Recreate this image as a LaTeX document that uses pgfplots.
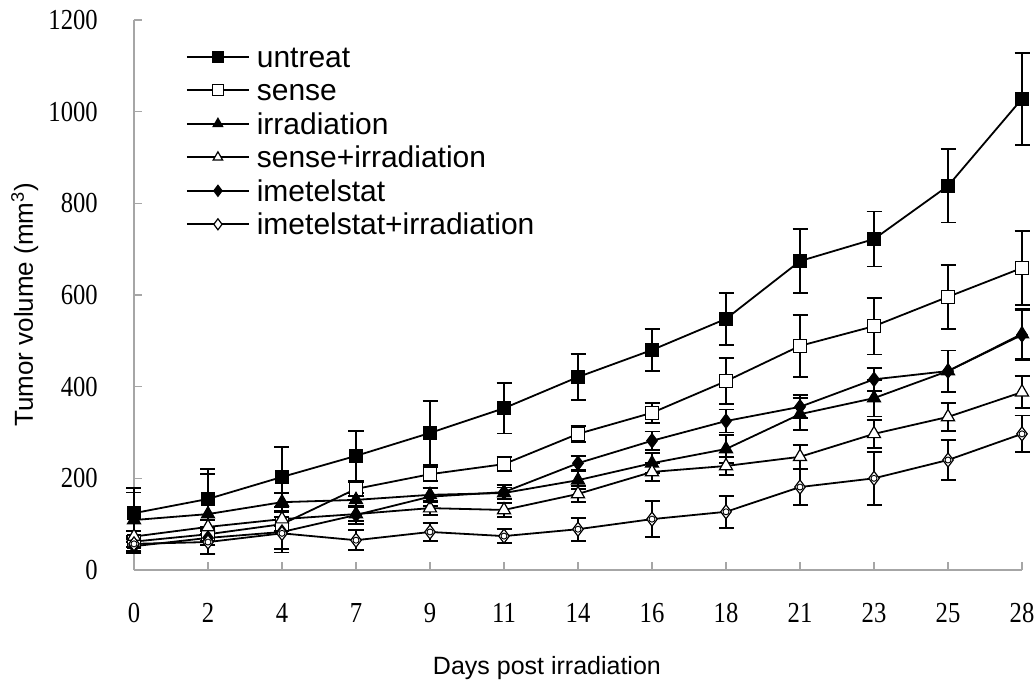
\documentclass[border=0pt]{standalone}
\usepackage{fontspec}
\setmainfont{Liberation Serif}
\setsansfont{Liberation Sans}
\newfontfamily\tickfont[FakeStretch=0.85]{Liberation Serif}
\usepackage{pgfplots}
\usepackage{pgfplotstable}
\pgfplotsset{compat=1.18}

% x = category index (days 0,2,4,7,...,28), y = mean volume, e = error
\pgfplotstableread{
x y e
0 124 55
1 155 65
2 203 65
3 249 55
4 299 70
5 353 55
6 421 50
7 480 46
8 548 57
9 674 70
10 722 60
11 838 80
12 1028 100
}\untreat
\pgfplotstableread{
x y e
0 62 12
1 78 15
2 100 15
3 177 15
4 209 15
5 231 15
6 297 18
7 343 22
8 412 50
9 489 68
10 532 62
11 596 70
12 659 80
}\sense
\pgfplotstableread{
x y e
0 109 60
1 122 87
2 148 20
3 153 15
4 164 15
5 168 12
6 196 20
7 233 22
8 264 30
9 340 35
10 375 40
11 434 45
12 515 55
}\irrad
\pgfplotstableread{
x y e
0 73 12
1 94 15
2 111 15
3 122 15
4 135 15
5 131 15
6 166 18
7 214 20
8 227 20
9 247 26
10 297 30
11 334 30
12 388 35
}\senseirr
\pgfplotstableread{
x y e
0 52 15
1 70 15
2 83 45
3 120 20
4 160 20
5 170 15
6 233 15
7 282 20
8 325 25
9 356 25
10 416 25
11 434 45
12 513 55
}\imet
\pgfplotstableread{
x y e
0 57 15
1 61 25
2 80 35
3 65 22
4 83 20
5 74 15
6 89 25
7 111 39
8 127 35
9 181 40
10 200 58
11 240 44
12 297 40
}\imetirr

\pgfplotsset{
  ser/.style={black, line width=1.8pt, mark size=6.5pt,
    error bars/y dir=both, error bars/y explicit,
    error bars/error bar style={line width=1.8pt, black},
    error bars/error mark options={rotate=90, mark size=7.5pt, line width=1.8pt, black}},
}

\begin{document}
\begin{tikzpicture}
\useasboundingbox (-134pt,-111pt) rectangle (900pt,570pt);
\begin{axis}[
  scale only axis, width=888pt, height=550pt,
  xmin=0, xmax=12, ymin=0, ymax=1200,
  xtick={0,...,12},
  xticklabels={0,2,4,7,9,11,14,16,18,21,23,25,28},
  ytick={0,200,...,1200},
  scaled y ticks=false,
  /pgf/number format/1000 sep={},
  /pgf/number format/assume math mode=true,
  axis x line=bottom, axis y line=left,
  axis line style={-, draw=black!35, line width=1.3pt},
  tick align=inside, major tick length=8pt,
  tick style={black!35, line width=1.3pt},
  ticklabel style={font=\tickfont\fontsize{29}{29}\selectfont},
  yticklabel style={inner sep=0pt, xshift=-36pt},
  xticklabel style={inner sep=0pt, yshift=-33pt},
  clip=false,
  xlabel={Days post irradiation},
  ylabel={Tumor volume (mm\textsuperscript{3})},
  every axis x label/.style={at={(axis description cs:0.465,-0.178)}, anchor=center,
    font=\sffamily\fontsize{25}{25}\selectfont},
  every axis y label/.style={at={(axis description cs:-0.123,0.482)}, anchor=center, rotate=90,
    font=\sffamily\fontsize{26}{26}\selectfont},
  legend style={at={(0.055,0.958)}, anchor=north west, draw=none, fill=none,
    font=\sffamily\fontsize{30}{30}\selectfont, row sep=4.5pt,
    nodes={inner sep=0pt, text height=22pt, text depth=7pt},
    /tikz/every odd column/.append style={column sep=7pt}},
  legend cell align=left,
  legend image code/.code={\draw[mark repeat=2, mark phase=2, #1, mark size=5.5pt, yshift=3pt]
    plot coordinates {(0pt,0pt) (31pt,0pt) (62pt,0pt)};},
]
\addplot[ser, mark=square*, mark options={solid, fill=black, line width=1.2pt}]
  table[x=x, y=y, y error=e] {\untreat};
\addplot[ser, mark=square*, mark options={solid, fill=white, line width=1.2pt}]
  table[x=x, y=y, y error=e] {\sense};
\addplot[ser, mark=triangle*, mark size=7.5pt, mark options={solid, fill=black, line width=1.2pt}]
  table[x=x, y=y, y error=e] {\irrad};
\addplot[ser, mark=triangle*, mark size=7.5pt, mark options={solid, fill=white, line width=1.2pt}]
  table[x=x, y=y, y error=e] {\senseirr};
\addplot[ser, mark=diamond*, mark size=7pt, mark options={solid, fill=black, line width=1.2pt}]
  table[x=x, y=y, y error=e] {\imet};
\addplot[ser, mark=diamond*, mark size=7pt, mark options={solid, fill=white, line width=1.2pt}]
  table[x=x, y=y, y error=e] {\imetirr};
\addplot[forget plot, only marks, black, mark=o, mark size=3pt, mark options={line width=0.9pt}]
  table[x=x, y=y] {\imetirr};
\legend{untreat, sense, irradiation, sense+irradiation, imetelstat, imetelstat+irradiation}
\end{axis}
\end{tikzpicture}
\end{document}
